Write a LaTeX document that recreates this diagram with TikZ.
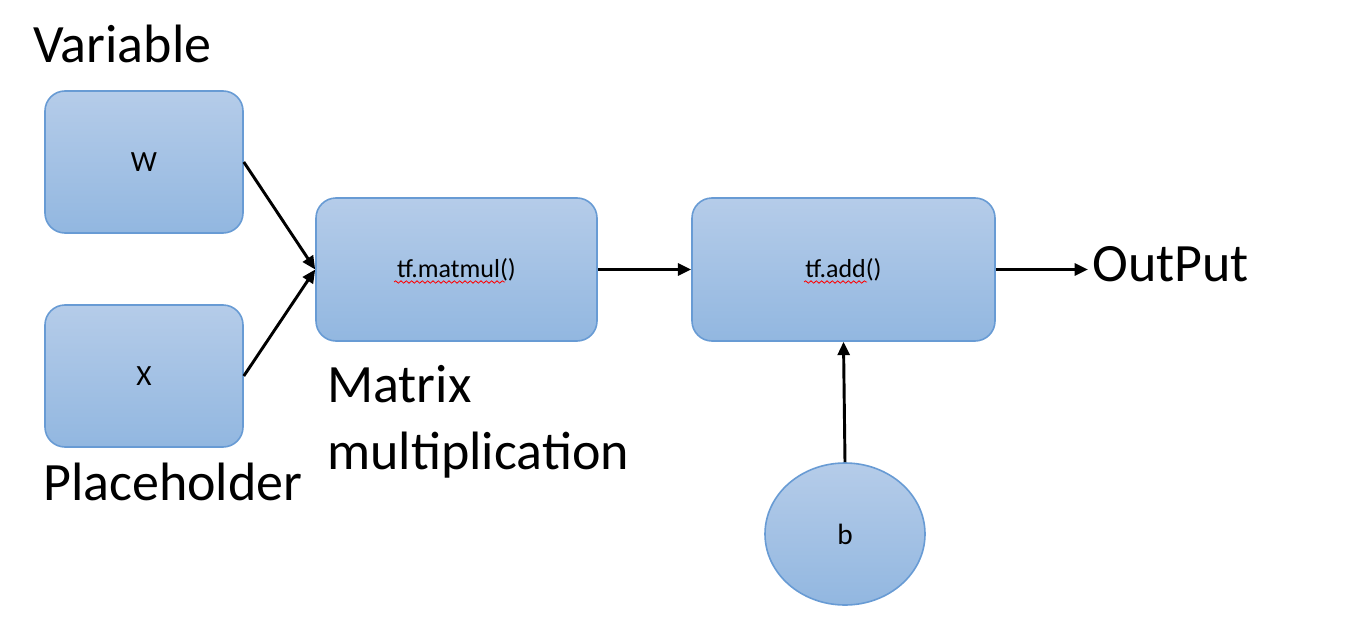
\documentclass[tikz,border=0pt]{standalone}
\usepackage{fontspec}
\setmainfont{Carlito}
\usetikzlibrary{arrows.meta,shapes.geometric,decorations.pathmorphing}
\definecolor{boxtop}{RGB}{181,204,233}
\definecolor{boxbot}{RGB}{146,183,224}
\definecolor{boxline}{RGB}{104,155,212}
\tikzset{
  opbox/.style={draw=boxline, line width=1.2pt, rounded corners=15pt,
    top color=boxtop, bottom color=boxbot, inner sep=0pt,
    font=\fontsize{19.5}{23}\selectfont},
  varbox/.style={opbox, font=\fontsize{22}{26}\selectfont},
  bigtext/.style={inner sep=0pt, font=\fontsize{40.5}{50}\selectfont},
  flow/.style={line width=2.2pt, -{Triangle[length=10pt,width=9pt]}},
  spellmark/.style={color=red, line width=0.6pt, decorate,
    decoration={snake, amplitude=0.9pt, segment length=4pt}}
}
\begin{document}
\begin{tikzpicture}[x=0.75pt,y=0.75pt,yscale=-1,xscale=1]
\useasboundingbox (0,0) rectangle (1356,642);
% inputs
\node [varbox, minimum width=148.5pt, minimum height=106.5pt] (w) at (144,162) {W};
\node [varbox, minimum width=148.5pt, minimum height=106.5pt] (x) at (144,376) {X};
% operations
\node [opbox, minimum width=210.75pt, minimum height=107.25pt] (matmul) at (456.5,269.5) {tf.matmul()};
\node [opbox, minimum width=227.25pt, minimum height=107.25pt] (add) at (843.5,269.5) {tf.add()};
\node [varbox, ellipse, minimum width=120pt, minimum height=106.5pt] (b) at (845,534) {b};
% labels
\node [bigtext, anchor=base west] (varlabel) at (33,63) {Variable};
\node [bigtext, anchor=base west] (phlabel) at (43,500) {Placeholder};
\node [bigtext, anchor=north west, align=left] (mmlabel) at (327,365) {Matrix\\multiplication};
\node [bigtext, anchor=base west] (out) at (1092,281) {OutPut};
% arrows
\draw [flow] (w.east) -- (matmul.west);
\draw [flow] (x.east) -- (matmul.west);
\draw [flow] (matmul.east) -- (add.west);
\draw [flow] (add.east) -- ([xshift=-3pt]add.east -| out.west);
\draw [flow] (b.north) -- (add.south);
% spell check underlines
\draw [spellmark] (394,282) -- (505,282);
\draw [spellmark] (804,282) -- (867,282);
\end{tikzpicture}
\end{document}
